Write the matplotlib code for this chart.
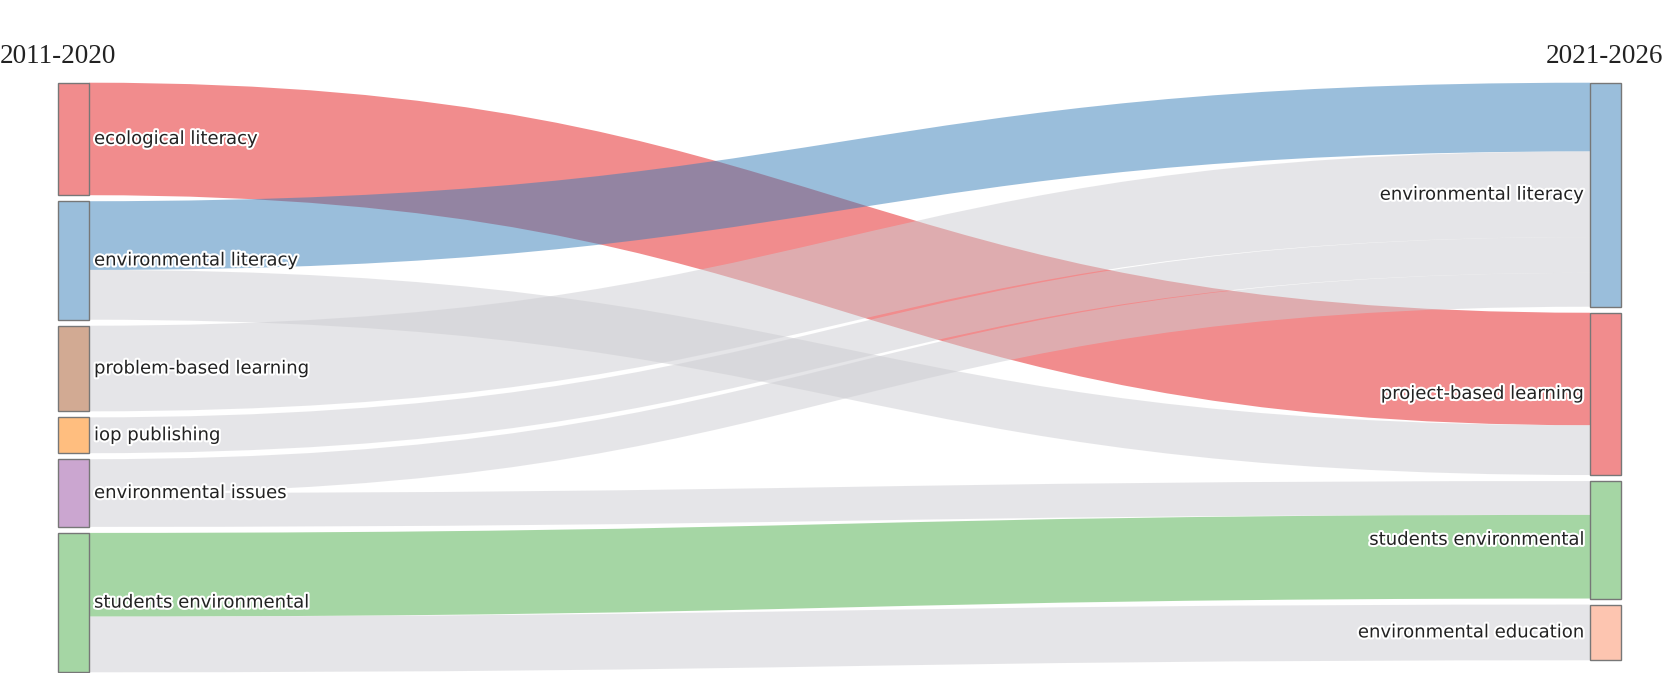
import matplotlib
matplotlib.use('Agg')
import matplotlib.pyplot as plt
from matplotlib.path import Path
from matplotlib.patches import PathPatch, Rectangle
import matplotlib.patheffects as pe

# ---- data ----
period_labels = ["2011-2020", "2021-2026"]
left_nodes = ["ecological literacy", "environmental literacy", "problem-based learning",
              "iop publishing", "environmental issues", "students environmental"]
right_nodes = ["environmental literacy", "project-based learning",
               "students environmental", "environmental education"]
link_source = [0, 1, 1, 2, 3, 4, 4, 5, 5]
link_target = [1, 0, 1, 0, 0, 0, 2, 2, 3]
link_value = [113, 69, 50, 86, 36, 34, 34, 84, 56]
link_color_key = ["red", "blue", "gray", "gray", "gray", "gray", "gray", "green", "gray"]
left_color_key = ["red", "blue", "brown", "orange", "purple", "green"]
right_color_key = ["blue", "red", "green", "salmon"]

palette = {
    "red": (228/255, 26/255, 28/255, 0.5),
    "blue": (55/255, 126/255, 184/255, 0.5),
    "green": (77/255, 175/255, 74/255, 0.5),
    "purple": (152/255, 78/255, 163/255, 0.5),
    "orange": (255/255, 127/255, 0/255, 0.5),
    "brown": (166/255, 86/255, 40/255, 0.5),
    "salmon": (252/255, 141/255, 98/255, 0.5),
    "gray": (205/255, 205/255, 210/255, 0.5),
}

# ---- layout ----
W, H = 1665, 673
fig = plt.figure(figsize=(W/100, H/100), dpi=100)
ax = fig.add_axes([0, 0, 1, 1])
ax.set_xlim(0, W)
ax.set_ylim(H, 0)
ax.axis('off')

top, bottom, gap = 82.7, 672.3, 6.0
lx0, lx1 = 58, 89
rx0, rx1 = 1590, 1621

left_tot = [0.0]*len(left_nodes)
right_tot = [0.0]*len(right_nodes)
for s, t, v in zip(link_source, link_target, link_value):
    left_tot[s] += v
    right_tot[t] += v
k = (bottom - top - gap*(len(left_nodes)-1)) / sum(left_tot)

def stack(tots):
    ys, y = [], top
    for v in tots:
        ys.append(y)
        y += v*k + gap
    return ys

left_y = stack(left_tot)
right_y = stack(right_tot)

# link offsets
order_out = sorted(range(len(link_value)), key=lambda i: (link_source[i], link_target[i]))
order_in = sorted(range(len(link_value)), key=lambda i: (link_target[i], link_source[i]))
src_off = {}
cur = list(left_y)
for i in order_out:
    s = link_source[i]
    src_off[i] = cur[s]
    cur[s] += link_value[i]*k
tgt_off = {}
cur = list(right_y)
for i in order_in:
    t = link_target[i]
    tgt_off[i] = cur[t]
    cur[t] += link_value[i]*k

xm = (lx1 + rx0) / 2
for i in range(len(link_value)):
    h = link_value[i]*k
    y0t, y0b = src_off[i], src_off[i] + h
    y1t, y1b = tgt_off[i], tgt_off[i] + h
    verts = [(lx1, y0t), (xm, y0t), (xm, y1t), (rx0, y1t),
             (rx0, y1b), (xm, y1b), (xm, y0b), (lx1, y0b), (lx1, y0t)]
    codes = [Path.MOVETO, Path.CURVE4, Path.CURVE4, Path.CURVE4,
             Path.LINETO, Path.CURVE4, Path.CURVE4, Path.CURVE4, Path.CLOSEPOLY]
    ax.add_patch(PathPatch(Path(verts, codes), facecolor=palette[link_color_key[i]],
                           edgecolor='none', lw=0))

halo = [pe.withStroke(linewidth=3, foreground='white')]
for n, name in enumerate(left_nodes):
    h = left_tot[n]*k
    ax.add_patch(Rectangle((lx0, left_y[n]), lx1-lx0, h, facecolor=palette[left_color_key[n]],
                           edgecolor='#777777', lw=1))
    ax.text(lx1+5, left_y[n]+h/2, name, ha='left', va='center', fontsize=13,
            family='DejaVu Sans', color='#222222', path_effects=halo)
for n, name in enumerate(right_nodes):
    h = right_tot[n]*k
    ax.add_patch(Rectangle((rx0, right_y[n]), rx1-rx0, h, facecolor=palette[right_color_key[n]],
                           edgecolor='#777777', lw=1))
    ax.text(rx0-6, right_y[n]+h/2, name, ha='right', va='center', fontsize=13,
            family='DejaVu Sans', color='#222222', path_effects=halo)

ax.text(0, 63, period_labels[0], ha='left', va='baseline', fontsize=19.5,
        family='Liberation Serif', color='#222222')
ax.text(1663, 63, period_labels[1], ha='right', va='baseline', fontsize=19.5,
        family='Liberation Serif', color='#222222')

fig.savefig('out.png', dpi=100)
